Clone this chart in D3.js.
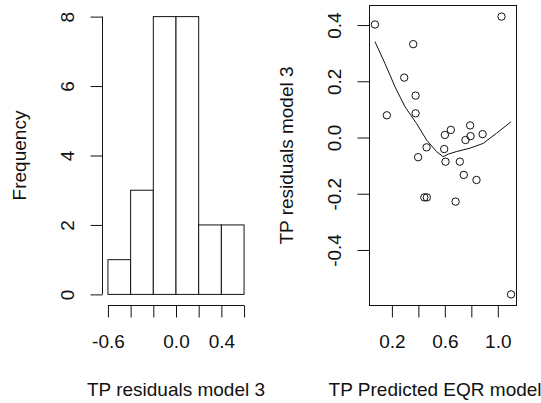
<!DOCTYPE html>
<html>
<head>
    <meta charset="UTF-8">
    <style>
        body { margin: 0; background: #fff; }
        svg { display: block; }
        text { font-family: "Liberation Sans", Arial, sans-serif; font-size: 19px; fill: #111; }
        .bar { fill: #fff; stroke: #111; stroke-width: 1; }
        .pt { fill: none; stroke: #111; stroke-width: 1; }
        .smooth { fill: none; stroke: #111; stroke-width: 1; }
        .tick line, .axisline, .box { stroke: #111; stroke-width: 1; fill: none; }
    </style>
</head>
<body>
<script src="https://cdn.jsdelivr.net/npm/d3@7"></script>
<script>
// histogram of residuals
var binEdges = [-0.6, -0.4, -0.2, 0.0, 0.2, 0.4, 0.6];
var histCounts = [1, 3, 8, 8, 2, 2];
var histYTicks = [0, 2, 4, 6, 8];
var histXLabels = ["-0.6", "", "", "0.0", "", "0.4", ""];

// residuals vs predicted
var predicted = [0.072, 1.028, 0.361, 0.293, 0.379, 0.162, 0.379, 0.462, 0.398, 0.600, 0.645, 0.595,
                 0.605, 0.713, 0.791, 0.794, 0.756, 0.885, 0.743, 0.839, 0.445, 0.464, 0.681, 1.100];
var residuals = [0.402, 0.430, 0.332, 0.213, 0.149, 0.079, 0.086, -0.035, -0.070, 0.009, 0.027, -0.041,
                 -0.086, -0.086, 0.043, 0.005, -0.009, 0.012, -0.133, -0.151, -0.213, -0.213, -0.228, -0.558];
var smoothX = [0.072, 0.147, 0.223, 0.298, 0.386, 0.462, 0.537, 0.587, 0.625, 0.688, 0.789, 0.889, 0.990, 1.100];
var smoothY = [0.341, 0.264, 0.181, 0.110, 0.050, -0.009, -0.050, -0.068, -0.059, -0.050, -0.038, -0.021, 0.015, 0.056];
var scatterXTicks = [0.2, 0.4, 0.6, 0.8, 1.0];
var scatterXLabels = ["0.2", "", "0.6", "", "1.0"];
var scatterYTicks = [-0.4, -0.2, 0.0, 0.2, 0.4];

var width = 541, height = 403;
var plotTop = 5.5, plotBottom = 305.5;
var tick = 12, labOff = 28.5, titleOff = 77;

var svg = d3.select("body").append("svg").attr("width", width).attr("height", height);

function pad(ext) {
    var d = (ext[1] - ext[0]) * 0.04;
    return [ext[0] - d, ext[1] + d];
}

function yAxis(g, y, ticks, fmt) {
    g.call(d3.axisLeft(y).tickValues(ticks).tickSize(tick).tickFormat(fmt));
    g.select(".domain").remove();
    g.selectAll(".tick text")
        .attr("x", null).attr("dy", null).attr("fill", null)
        .attr("text-anchor", "middle")
        .attr("transform", "translate(" + (-labOff) + ",0) rotate(-90)");
}

function xAxis(g, x, ticks, labels) {
    g.call(d3.axisBottom(x).tickValues(ticks).tickSize(tick).tickFormat(function(d, i) { return labels[i]; }));
    g.select(".domain").remove();
    g.selectAll(".tick text").attr("fill", null).attr("dy", null).attr("y", 42.5);
}

// ---- left panel: histogram ----
var hx = d3.scaleLinear().domain(pad([binEdges[0], binEdges[binEdges.length - 1]])).range([102.5, 249.5]);
var hy = d3.scaleLinear().domain(pad([0, d3.max(histCounts)])).range([plotBottom, plotTop]);

var left = svg.append("g");
left.selectAll(".bar")
    .data(histCounts)
    .enter().append("rect")
    .attr("class", "bar")
    .attr("x", function(d, i) { return hx(binEdges[i]); })
    .attr("width", function(d, i) { return hx(binEdges[i + 1]) - hx(binEdges[i]); })
    .attr("y", function(d) { return hy(d); })
    .attr("height", function(d) { return hy(0) - hy(d); });

var hyg = left.append("g").attr("transform", "translate(102.5,0)");
yAxis(hyg, hy, histYTicks, d3.format("d"));
hyg.append("line").attr("class", "axisline")
    .attr("y1", hy(histYTicks[0])).attr("y2", hy(histYTicks[histYTicks.length - 1]));

var hxg = left.append("g").attr("transform", "translate(0," + plotBottom + ")");
xAxis(hxg, hx, binEdges, histXLabels);
hxg.append("line").attr("class", "axisline")
    .attr("x1", hx(binEdges[0])).attr("x2", hx(binEdges[binEdges.length - 1]));

left.append("text").attr("x", (102.5 + 249.5) / 2).attr("y", 396)
    .attr("text-anchor", "middle").text("TP residuals model 3");
left.append("text").attr("text-anchor", "middle")
    .attr("transform", "translate(" + (102.5 - titleOff) + "," + (plotTop + plotBottom) / 2 + ") rotate(-90)")
    .text("Frequency");

// ---- right panel: scatter with smoother ----
var sx = d3.scaleLinear().domain(pad(d3.extent(predicted))).range([369.5, 516.5]);
var sy = d3.scaleLinear().domain(pad(d3.extent(residuals))).range([plotBottom, plotTop]);

var right = svg.append("g");
right.append("rect").attr("class", "box")
    .attr("x", 369.5).attr("y", plotTop).attr("width", 147).attr("height", plotBottom - plotTop);

right.selectAll(".pt")
    .data(predicted)
    .enter().append("circle")
    .attr("class", "pt")
    .attr("cx", function(d) { return sx(d); })
    .attr("cy", function(d, i) { return sy(residuals[i]); })
    .attr("r", 3.7);

var line = d3.line()
    .x(function(d) { return sx(d); })
    .y(function(d, i) { return sy(smoothY[i]); });
right.append("path").attr("class", "smooth").attr("d", line(smoothX));

var syg = right.append("g").attr("transform", "translate(369.5,0)");
yAxis(syg, sy, scatterYTicks, function(d) { return d3.format(".1f")(d).replace("\u2212", "-"); });

var sxg = right.append("g").attr("transform", "translate(0," + plotBottom + ")");
xAxis(sxg, sx, scatterXTicks, scatterXLabels);

right.append("text").attr("x", (369.5 + 516.5) / 2).attr("y", 396)
    .attr("text-anchor", "middle").text("TP Predicted EQR model 3");
right.append("text").attr("text-anchor", "middle")
    .attr("transform", "translate(" + (369.5 - titleOff) + "," + (plotTop + plotBottom) / 2 + ") rotate(-90)")
    .text("TP residuals model 3");
</script>
</body>
</html>
